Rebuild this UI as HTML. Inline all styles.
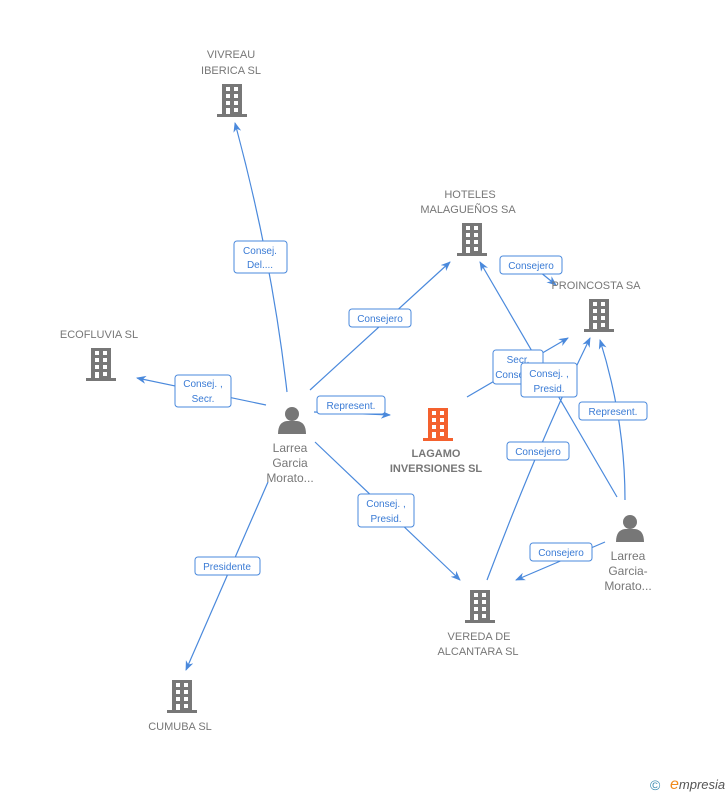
<!DOCTYPE html>
<html><head><meta charset="utf-8"><style>
html,body{margin:0;padding:0;background:#fff;}
svg{display:block;font-family:"Liberation Sans",sans-serif;}
.n{font-size:11px;fill:#777;text-anchor:middle;}
.l{font-size:10px;fill:#3a7bd5;text-anchor:middle;}
.e{stroke:#4a89dc;stroke-width:1.2;fill:none;}
.b{fill:#fff;stroke:#4a89dc;stroke-width:1;}
</style></head><body>
<svg width="728" height="795" viewBox="0 0 728 795">
<defs>
<marker id="a" markerWidth="10" markerHeight="10" refX="9" refY="5" orient="auto" markerUnits="userSpaceOnUse"><path d="M0,1 L10,5 L0,9 L3,5 z" fill="#4a89dc"/></marker>
<g id="bld">
<rect x="-10" y="0" width="20" height="31" fill="currentColor"/>
<rect x="-15" y="30" width="30" height="3" fill="currentColor"/>
<g fill="#fff">
<rect x="-6" y="3" width="4" height="4"/><rect x="2" y="3" width="4" height="4"/>
<rect x="-6" y="10" width="4" height="4"/><rect x="2" y="10" width="4" height="4"/>
<rect x="-6" y="17" width="4" height="4"/><rect x="2" y="17" width="4" height="4"/>
<rect x="-6" y="24" width="4" height="6"/><rect x="2" y="24" width="4" height="4"/>
</g></g>
<g id="per">
<circle cx="0" cy="-6" r="7" fill="#777"/>
<path d="M-14,14 Q-14,2 -5,1 L5,1 Q14,2 14,14 z" fill="#777"/>
</g>
</defs>

<!-- edges -->
<path class="e" d="M287,392 Q272,260 235,123" marker-end="url(#a)"/>
<path class="e" d="M266,405 L137,378" marker-end="url(#a)"/>
<path class="e" d="M310,390 L450,262" marker-end="url(#a)"/>
<path class="e" d="M314,412 L390,415" marker-end="url(#a)"/>
<path class="e" d="M315,442 L460,580" marker-end="url(#a)"/>
<path class="e" d="M268,482 L186,670" marker-end="url(#a)"/>
<path class="e" d="M467,397 L568,338" marker-end="url(#a)"/>
<path class="e" d="M487,580 Q540,440 590,338" marker-end="url(#a)"/>
<path class="e" d="M617,497 L480,262" marker-end="url(#a)"/>
<path class="e" d="M625,500 Q625,420 600,340" marker-end="url(#a)"/>
<path class="e" d="M605,542 L516,580" marker-end="url(#a)"/>
<path class="e" d="M540,272 L556,285" marker-end="url(#a)"/>

<!-- labels -->
<rect class="b" x="234" y="241" width="53" height="32" rx="3"/>
<text class="l" x="260" y="254">Consej.</text><text class="l" x="260" y="268">Del....</text>
<rect class="b" x="175" y="375" width="56" height="32" rx="3"/>
<text class="l" x="203" y="387">Consej. ,</text><text class="l" x="203" y="402">Secr.</text>
<rect class="b" x="349" y="309" width="62" height="18" rx="3"/>
<text class="l" x="380" y="322">Consejero</text>
<rect class="b" x="317" y="396" width="68" height="18" rx="3"/>
<text class="l" x="351" y="409">Represent.</text>
<rect class="b" x="358" y="494" width="56" height="33" rx="3"/>
<text class="l" x="386" y="507">Consej. ,</text><text class="l" x="386" y="522">Presid.</text>
<rect class="b" x="195" y="557" width="65" height="18" rx="3"/>
<text class="l" x="227" y="570">Presidente</text>
<rect class="b" x="500" y="256" width="62" height="18" rx="3"/>
<text class="l" x="531" y="269">Consejero</text>
<rect class="b" x="493" y="350" width="50" height="34" rx="3"/>
<text class="l" x="518" y="363">Secr.</text><text class="l" x="518" y="378">Consejero</text>
<rect class="b" x="521" y="363" width="56" height="34" rx="3"/>
<text class="l" x="549" y="377">Consej. ,</text><text class="l" x="549" y="392">Presid.</text>
<rect class="b" x="579" y="402" width="68" height="18" rx="3"/>
<text class="l" x="613" y="415">Represent.</text>
<rect class="b" x="507" y="442" width="62" height="18" rx="3"/>
<text class="l" x="538" y="455">Consejero</text>
<rect class="b" x="530" y="543" width="62" height="18" rx="3"/>
<text class="l" x="561" y="556">Consejero</text>

<!-- nodes -->
<text class="n" x="231" y="58">VIVREAU</text><text class="n" x="231" y="74">IBERICA  SL</text>
<use href="#bld" x="232" y="84" color="#777"/>
<text class="n" x="470" y="198">HOTELES</text><text class="n" x="468" y="213">MALAGUEÑOS SA</text>
<use href="#bld" x="472" y="223" color="#777"/>
<text class="n" x="596" y="289">PROINCOSTA SA</text>
<use href="#bld" x="599" y="299" color="#777"/>
<text class="n" x="99" y="338">ECOFLUVIA  SL</text>
<use href="#bld" x="101" y="348" color="#777"/>
<use href="#bld" x="438" y="408" color="#f4612e"/>
<text class="n" x="436" y="457" style="font-weight:bold">LAGAMO</text>
<text class="n" x="436" y="472" style="font-weight:bold">INVERSIONES SL</text>
<use href="#per" x="292" y="420"/>
<text class="n" x="290" y="452" style="font-size:12px">Larrea</text>
<text class="n" x="290" y="467" style="font-size:12px">Garcia</text>
<text class="n" x="290" y="482" style="font-size:12px">Morato...</text>
<use href="#per" x="630" y="528"/>
<text class="n" x="628" y="560" style="font-size:12px">Larrea</text>
<text class="n" x="628" y="575" style="font-size:12px">Garcia-</text>
<text class="n" x="628" y="590" style="font-size:12px">Morato...</text>
<use href="#bld" x="480" y="590" color="#777"/>
<text class="n" x="479" y="640">VEREDA DE</text><text class="n" x="478" y="655">ALCANTARA SL</text>
<use href="#bld" x="182" y="680" color="#777"/>
<text class="n" x="180" y="730">CUMUBA SL</text>

<text x="650" y="790" style="font-size:14px;fill:#3a8ab0">©</text>
<text x="670" y="789" style="font-size:13px;fill:#555;font-style:italic"><tspan style="fill:#f08a1c;font-size:16px">e</tspan>mpresia</text>
</svg>
</body></html>
